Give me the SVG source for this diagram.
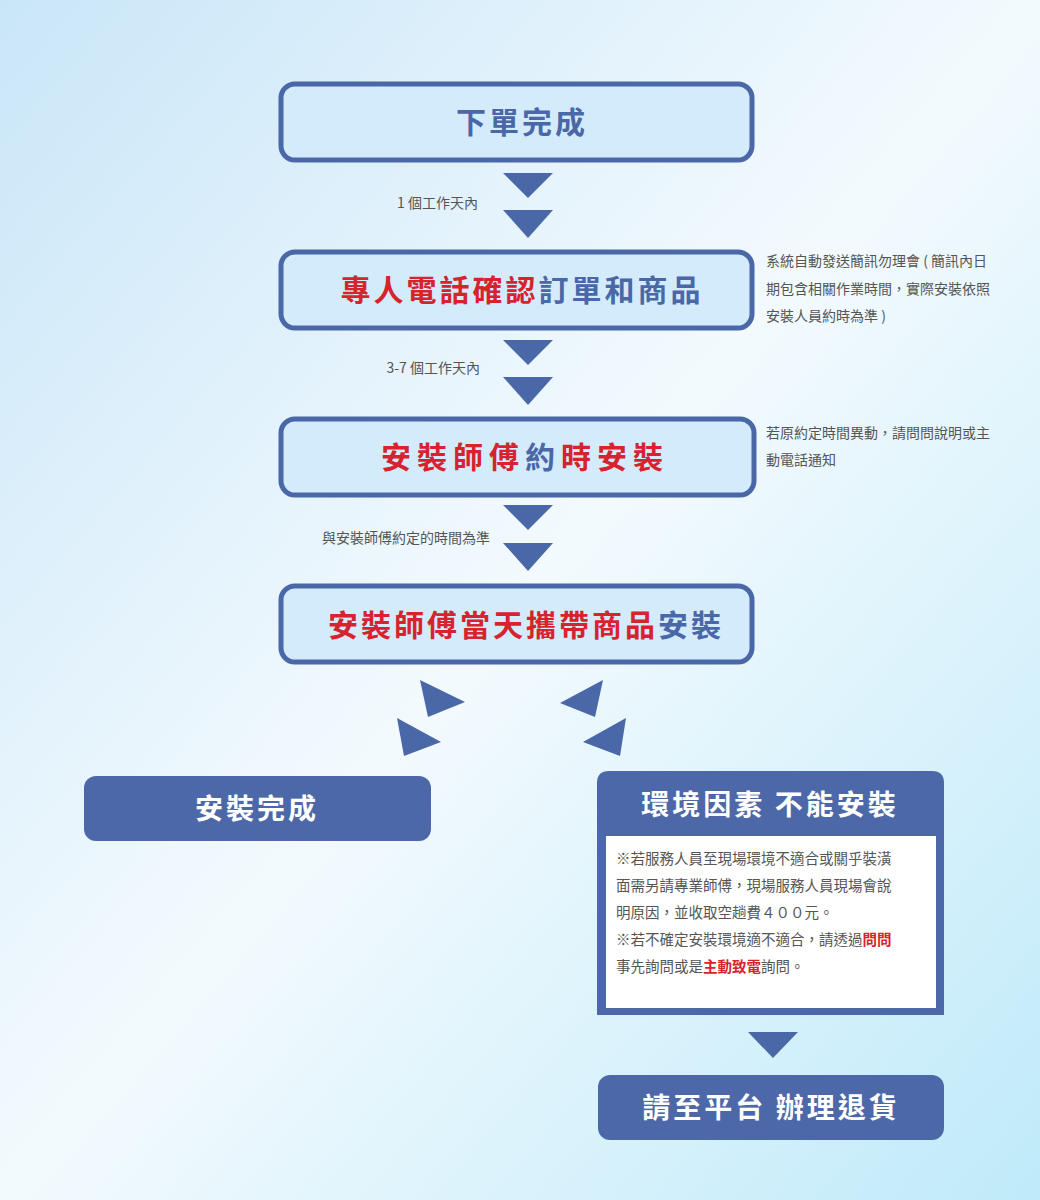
<svg xmlns="http://www.w3.org/2000/svg" width="1040" height="1200" viewBox="0 0 1040 1200">
<defs>
<linearGradient id="bg" x1="0" y1="0" x2="1" y2="1">
<stop offset="0" stop-color="#c9e6f8"/><stop offset="0.5" stop-color="#f3fafe"/><stop offset="1" stop-color="#bfeaf9"/>
</linearGradient>
<style>
.box{fill:#d4ebfb;stroke:#4a67a8;stroke-width:5}
.fill{fill:#4d68a8}
.tri{fill:#4a67a8}
.t{font-family:"Noto Sans CJK TC","Noto Sans CJK SC",sans-serif;font-weight:bold;letter-spacing:3px}
.big{font-size:30px;fill:#4a67a8}
.red{fill:#d6232e}
.blue{fill:#4a67a8}
.w{fill:#ffffff;font-size:28px}
.s{font-family:"Noto Sans CJK TC","Noto Sans CJK SC",sans-serif;font-size:14px;fill:#555}
.n{font-family:"Noto Sans CJK TC","Noto Sans CJK SC",sans-serif;font-size:14.5px;fill:#555}
</style>
</defs>
<rect width="1040" height="1200" fill="url(#bg)"/>
<g id="connectors">
<polygon class="tri" points="503,173 553,173 528,198"/>
<polygon class="tri" points="503,210 553,210 528,238"/>
<polygon class="tri" points="503,340 553,340 528,365"/>
<polygon class="tri" points="503,377 553,377 528,405"/>
<polygon class="tri" points="503,505 553,505 528,530"/>
<polygon class="tri" points="503,543 553,543 528,571"/>
<polygon class="tri" points="420,680 465,702 428,717"/>
<polygon class="tri" points="397,718 441,742 404,756"/>
<polygon class="tri" points="603,680 560,703 595,717"/>
<polygon class="tri" points="626,718 583,742 620,756"/>
<polygon class="tri" points="748,1032 798,1032 773,1058"/>
<text class="s" x="478" y="208" text-anchor="end">1 個工作天內</text>
<text class="s" x="480" y="373" text-anchor="end">3-7 個工作天內</text>
<text class="s" x="490" y="543" text-anchor="end">與安裝師傅約定的時間為準</text>
</g>
<g id="n1"><rect class="box" x="281" y="84" width="471" height="76" rx="14"/>
<text class="t big" x="522" y="133" text-anchor="middle">下單完成</text></g>
<g id="n2"><rect class="box" x="281" y="252" width="471" height="76" rx="14"/>
<text class="t big" x="522" y="301" text-anchor="middle"><tspan class="red">專人電話確認</tspan><tspan class="blue">訂單和商品</tspan></text>
<text class="s" x="766" y="266">系統自動發送簡訊勿理會 ( 簡訊內日</text>
<text class="s" x="766" y="294">期包含相關作業時間，實際安裝依照</text>
<text class="s" x="766" y="321">安裝人員約時為準 )</text></g>
<g id="n3"><rect class="box" x="281" y="419" width="473" height="76" rx="14"/>
<text class="t big" x="525" y="468" text-anchor="middle" style="letter-spacing:6px"><tspan class="red">安裝師傅</tspan><tspan class="blue">約</tspan><tspan class="red">時安裝</tspan></text>
<text class="s" x="766" y="438">若原約定時間異動，請問問說明或主</text>
<text class="s" x="766" y="465">動電話通知</text></g>
<g id="n4"><rect class="box" x="281" y="586" width="471" height="76" rx="14"/>
<text class="t big" x="526" y="636" text-anchor="middle"><tspan class="red">安裝師傅當天攜帶商品</tspan><tspan class="blue">安裝</tspan></text></g>
<g id="n5"><rect class="fill" x="84" y="776" width="347" height="65" rx="12"/>
<text class="t w" x="257" y="819" text-anchor="middle">安裝完成</text></g>
<g id="n6"><path class="fill" d="M609,771 H932 Q944,771 944,783 V1015 H597 V783 Q597,771 609,771 Z"/>
<rect x="606" y="836" width="330" height="172" fill="#ffffff"/>
<text class="t w" x="770" y="815" text-anchor="middle">環境因素 不能安裝</text>
<text class="n" x="616" y="864">※若服務人員至現場環境不適合或關乎裝潢</text>
<text class="n" x="616" y="891">面需另請專業師傅，現場服務人員現場會說</text>
<text class="n" x="616" y="918">明原因，並收取空趟費４００元。</text>
<text class="n" x="616" y="945">※若不確定安裝環境適不適合，請透過<tspan class="red" font-weight="bold">問問</tspan></text>
<text class="n" x="616" y="972">事先詢問或是<tspan class="red" font-weight="bold">主動致電</tspan>詢問。</text></g>
<g id="n7"><rect class="fill" x="598" y="1075" width="346" height="65" rx="12"/>
<text class="t w" x="771" y="1118" text-anchor="middle">請至平台 辦理退貨</text></g>
</svg>
